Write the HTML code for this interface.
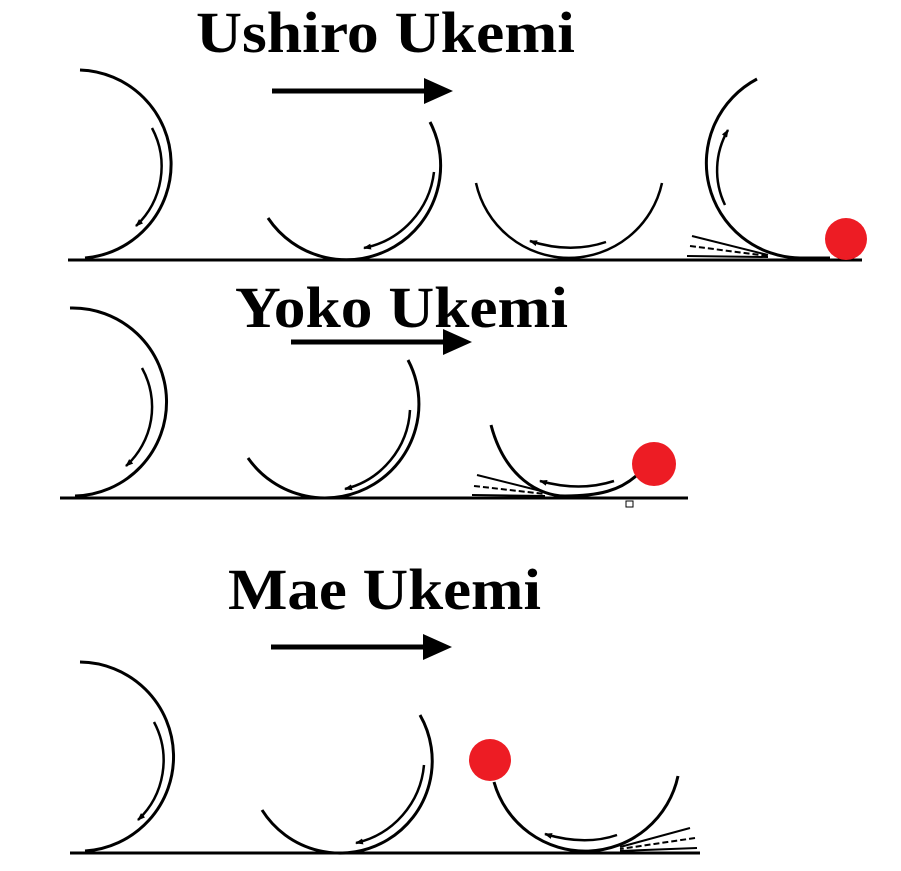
<!DOCTYPE html>
<html><head><meta charset="utf-8"><style>
html,body{margin:0;padding:0;background:#fff;width:901px;height:871px;overflow:hidden}
svg{display:block}
text{font-family:"Liberation Serif",serif;font-weight:bold;font-size:58px;fill:#000}
</style></head><body>
<svg width="901" height="871" viewBox="0 0 901 871" xmlns="http://www.w3.org/2000/svg">
<defs>
<marker id="ah" markerWidth="8" markerHeight="6" refX="7" refY="3" orient="auto" markerUnits="userSpaceOnUse"><path d="M0,0 L8,3 L0,6 Z" fill="#000"/></marker>
</defs>
<g fill="none" stroke="#000" stroke-width="3">
<!-- Row 1 -->
<text x="196" y="52" stroke="none" textLength="379" lengthAdjust="spacingAndGlyphs">Ushiro Ukemi</text>
<line x1="272" y1="91" x2="428" y2="91" stroke-width="5"/>
<path d="M424,78 L453,91 L424,104 Z" fill="#000" stroke="none"/>
<line x1="68" y1="260" x2="862" y2="260"/>
<path d="M80,70 A94.2,94.2 0 0 1 85,258"/>
<path d="M152,128 A82,82 0 0 1 136,226" stroke-width="2.5" marker-end="url(#ah)"/>
<path d="M268,218 A94.3,94.3 0 0 0 430,122"/>
<path d="M434,172 A88,88 0 0 1 364,248" stroke-width="2.5" marker-end="url(#ah)"/>
<path d="M476,183 A95.2,95.2 0 0 0 662,183" stroke-width="2.5"/>
<path d="M606,242 Q570,254 530,241" stroke-width="2.5" marker-end="url(#ah)"/>
<path d="M757,79 A95,95 0 0 0 800,258 L830,258" />
<path d="M725,205 A80,80 0 0 1 728,130" stroke-width="2.5" marker-end="url(#ah)"/>
<line x1="692" y1="236" x2="768" y2="255" stroke-width="2"/>
<line x1="690" y1="246" x2="768" y2="256" stroke-width="2" stroke-dasharray="6,3"/>
<line x1="687" y1="256" x2="768" y2="257" stroke-width="2"/>
<circle cx="846" cy="239" r="21" fill="#ed1c24" stroke="none"/>
<!-- Row 2 -->
<text x="235" y="327" stroke="none" textLength="333" lengthAdjust="spacingAndGlyphs">Yoko Ukemi</text>
<line x1="291" y1="342" x2="446" y2="342" stroke-width="5"/>
<path d="M443,329 L472,342 L443,355 Z" fill="#000" stroke="none"/>
<line x1="60" y1="498" x2="688" y2="498"/>
<path d="M70,308 A94,94 0 0 1 75,496"/>
<path d="M142,368 A80,80 0 0 1 126,466" stroke-width="2.5" marker-end="url(#ah)"/>
<path d="M248,458 A94,94 0 0 0 408,360"/>
<path d="M410,410 A86,86 0 0 1 345,489" stroke-width="2.5" marker-end="url(#ah)"/>
<path d="M491,425 C505,478 540,496 565,496 C600,496 620,490 636,476"/>
<path d="M614,481 Q580,492 540,481" stroke-width="2.5" marker-end="url(#ah)"/>
<line x1="477" y1="475" x2="545" y2="492" stroke-width="2"/>
<line x1="474" y1="486" x2="545" y2="494" stroke-width="2" stroke-dasharray="6,3"/>
<line x1="472" y1="495" x2="545" y2="496" stroke-width="2"/>
<circle cx="654" cy="464" r="22" fill="#ed1c24" stroke="none"/>
<rect x="626" y="501" width="7" height="6" stroke-width="1"/>
<!-- Row 3 -->
<text x="228" y="609" stroke="none" textLength="313" lengthAdjust="spacingAndGlyphs">Mae Ukemi</text>
<line x1="271" y1="647" x2="426" y2="647" stroke-width="5"/>
<path d="M423,634 L452,647 L423,660 Z" fill="#000" stroke="none"/>
<line x1="70" y1="853" x2="700" y2="853"/>
<path d="M80,662 A94.6,94.6 0 0 1 85,851"/>
<path d="M154,722 A82,82 0 0 1 138,820" stroke-width="2.5" marker-end="url(#ah)"/>
<path d="M262,810 A92.2,92.2 0 0 0 420,715"/>
<path d="M424,765 A88,88 0 0 1 356,843" stroke-width="2.5" marker-end="url(#ah)"/>
<path d="M494,782 A94.8,94.8 0 0 0 678,776"/>
<path d="M617,835 Q585,846 545,834" stroke-width="2.5" marker-end="url(#ah)"/>
<line x1="690" y1="828" x2="620" y2="847" stroke-width="2"/>
<line x1="695" y1="838" x2="620" y2="849" stroke-width="2" stroke-dasharray="6,3"/>
<line x1="697" y1="848" x2="620" y2="851" stroke-width="2"/>
<circle cx="490" cy="760" r="21" fill="#ed1c24" stroke="none"/>
</g>
</svg>
</body></html>
